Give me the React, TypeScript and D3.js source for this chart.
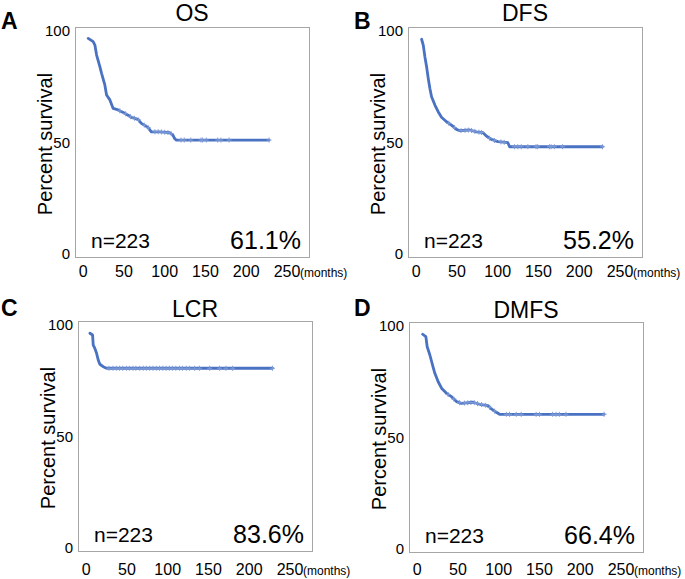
import React from "react";
import * as d3 from "d3";

// ---------- data ----------
const panelLetters = ["A", "B", "C", "D"];
const panelTitles = ["OS", "DFS", "LCR", "DMFS"];
const sampleLabels = ["n=223", "n=223", "n=223", "n=223"];
const rateLabels = ["61.1%", "55.2%", "83.6%", "66.4%"];
const xTickValues = [0, 50, 100, 150, 200, 250];
const yTickValues = [0, 50, 100];
const xUnitLabel = "(months)";
const yAxisLabel = "Percent survival";

const osMonths = [6.2, 12.3, 14.4, 16.5, 20.5, 22.6, 26.6, 28.7, 32.8, 36.8, 42.9, 51, 59.2, 67.3, 71.4, 79.5, 83.6, 93.8, 106, 110, 112, 114, 228];
const osSurvival = [96.7, 95.2, 93.7, 89.2, 84.0, 81.0, 75.8, 71.3, 69.1, 65.3, 64.6, 63.1, 61.3, 60.4, 58.6, 56.8, 54.8, 54.8, 54.4, 53.4, 51.9, 51.1, 51.1];
const osCensored = [45, 52, 58, 63, 68, 75, 80, 88, 92, 96, 100, 104, 108, 120, 124, 132, 144.5, 146.5, 151, 165, 169, 179, 228];

const dfsMonths = [6.7, 8.7, 10.7, 12.8, 14.8, 16.8, 18.9, 23, 27, 31.1, 37.2, 43.3, 49.5, 53.5, 65.7, 73.9, 82, 86.1, 92.2, 100.3, 112.5, 114.6, 228.5];
const dfsSurvival = [96.3, 93.7, 88.5, 84.0, 78.8, 74.3, 70.5, 66.8, 63.8, 61.3, 59.3, 57.8, 55.9, 55.3, 55.6, 54.8, 54.4, 52.9, 51.4, 50.4, 49.9, 48.1, 48.1];
const dfsCensored = [40, 47, 55, 60, 64, 68, 72, 77, 80, 90, 96, 104, 108, 120.6, 124.7, 128.9, 137, 147, 149, 163.5, 165.5, 169.5, 179.6, 228.5];

const lcrMonths = [4.6, 7.9, 8.7, 10.7, 12.8, 14.8, 16.8, 20.9, 25, 228.5];
const lcrSurvival = [96.3, 95.5, 91.0, 89.5, 87.3, 84.3, 82.4, 81.3, 80.6, 80.6];
const lcrCensored = [28, 33, 37, 41, 45, 49.5, 53, 57.5, 61, 65.7, 70, 73.9, 78, 82, 86, 90, 94, 98, 102, 106, 110, 114.5, 118, 122.7, 126.7, 133, 139, 151.5, 163.7, 171.5, 179.6, 228.5];

const dmfsMonths = [6.7, 10.7, 12.3, 15.6, 18.9, 21.7, 25.8, 29.9, 36, 42.1, 48.2, 54.3, 68.5, 76.7, 86.8, 91, 97.1, 101.1, 229.3];
const dmfsSurvival = [96.3, 95.2, 90.7, 87.0, 82.5, 78.8, 75.0, 72.1, 69.8, 68.3, 66.1, 65.3, 65.8, 64.9, 64.3, 62.8, 61.3, 60.4, 60.4];
const dmfsCensored = [38, 45, 52, 58, 62, 66, 70, 74, 79, 84, 89, 95, 109.3, 113.3, 121.5, 127.6, 145.9, 150, 166.2, 170.3, 174.3, 182.5, 229.3];

const curveMonths = [osMonths, dfsMonths, lcrMonths, dmfsMonths];
const curveSurvival = [osSurvival, dfsSurvival, lcrSurvival, dmfsSurvival];
const curveCensored = [osCensored, dfsCensored, lcrCensored, dmfsCensored];

// ---------- layout (not data) ----------
const W = 685;
const H = 579;
const boxW = 234;
const boxH = 230;
const panelLayout = [
  { x: 75, y: 27, letterX: 1, letterY: 29, titleDy: -6, xLabelDy: 250 },
  { x: 408, y: 27, letterX: 354, letterY: 29, titleDy: -6, xLabelDy: 250 },
  { x: 78, y: 321, letterX: 1, letterY: 316, titleDy: -4, xLabelDy: 254 },
  { x: 409, y: 322, letterX: 354, letterY: 316, titleDy: -4, xLabelDy: 253 },
];
const BLUE = "#4a72c2";
const CENSOR = "#7d9ad6";
const FONT = "'Liberation Sans', Arial, Helvetica, sans-serif";

function survivalAt(ms: number[], ss: number[], t: number) {
  const i = d3.bisectRight(ms, t);
  if (i <= 0) return ss[0];
  if (i >= ms.length) return ss[ss.length - 1];
  const t0 = ms[i - 1], t1 = ms[i];
  const f = (t - t0) / (t1 - t0);
  return ss[i - 1] + (ss[i] - ss[i - 1]) * f;
}

function Panel({ idx }: { idx: number }) {
  const L = panelLayout[idx];
  const x = d3.scaleLinear().domain([-10, 277]).range([L.x, L.x + boxW]);
  const y = d3.scaleLinear().domain([0, 100]).range([L.y + 227, L.y + 4]);
  const ms = curveMonths[idx];
  const ss = curveSurvival[idx];
  const pts = ms.map((m, i) => [m, ss[i]] as [number, number]);
  const line = d3
    .line<[number, number]>()
    .x((d) => x(d[0]))
    .y((d) => y(d[1]))
    .curve(d3.curveLinear);
  const cx = L.x + boxW / 2;
  return (
    <g>
      <text x={L.letterX} y={L.letterY} fontSize={23} fontWeight="bold" fontFamily={FONT}>
        {panelLetters[idx]}
      </text>
      <text x={cx} y={L.y + L.titleDy} fontSize={23} textAnchor="middle" fontFamily={FONT}>
        {panelTitles[idx]}
      </text>
      <rect x={L.x + 0.5} y={L.y + 0.5} width={boxW} height={boxH} fill="none" stroke="#a6a6a6" strokeWidth={1} />
      {yTickValues.map((t) => (
        <text key={"y" + t} x={L.x - 5} y={y(t)} dy="0.36em" fontSize={15} textAnchor="end" fontFamily={FONT}>
          {t}
        </text>
      ))}
      {xTickValues.map((t) => (
        <text key={"x" + t} x={x(t)} y={L.y + L.xLabelDy} fontSize={16} textAnchor="middle" fontFamily={FONT}>
          {t}
        </text>
      ))}
      <text x={x(250) + 13} y={L.y + L.xLabelDy} fontSize={12} fontFamily={FONT}>
        {xUnitLabel}
      </text>
      <text
        transform={`translate(${L.x - 23},${L.y + boxH / 2 + 2}) rotate(-90)`}
        fontSize={20}
        textAnchor="middle"
        fontFamily={FONT}
      >
        {yAxisLabel}
      </text>
      <path d={line(pts) || ""} fill="none" stroke={BLUE} strokeWidth={2.8} strokeLinejoin="round" strokeLinecap="round" />
      {curveCensored[idx].map((t, i) => {
        const px = x(t);
        const py = y(survivalAt(ms, ss, t));
        return (
          <path
            key={"c" + i}
            d={`M${px - 2.5},${py}H${px + 2.5}M${px},${py - 2.5}V${py + 2.5}`}
            stroke={CENSOR}
            strokeWidth={1}
            fill="none"
          />
        );
      })}
      <text x={L.x + 16} y={L.y + 221} fontSize={21} fontFamily={FONT}>
        {sampleLabels[idx]}
      </text>
      <text x={L.x + boxW - 8} y={L.y + 222} fontSize={25} textAnchor="end" fontFamily={FONT}>
        {rateLabels[idx]}
      </text>
    </g>
  );
}

export default function App() {
  return (
    <svg
      width={W}
      height={H}
      viewBox={`0 0 ${W} ${H}`}
      style={{ position: "absolute", left: 0, top: 0, background: "#fff" }}
    >
      <rect width={W} height={H} fill="#fff" />
      {panelLetters.map((_, i) => (
        <Panel key={i} idx={i} />
      ))}
    </svg>
  );
}
